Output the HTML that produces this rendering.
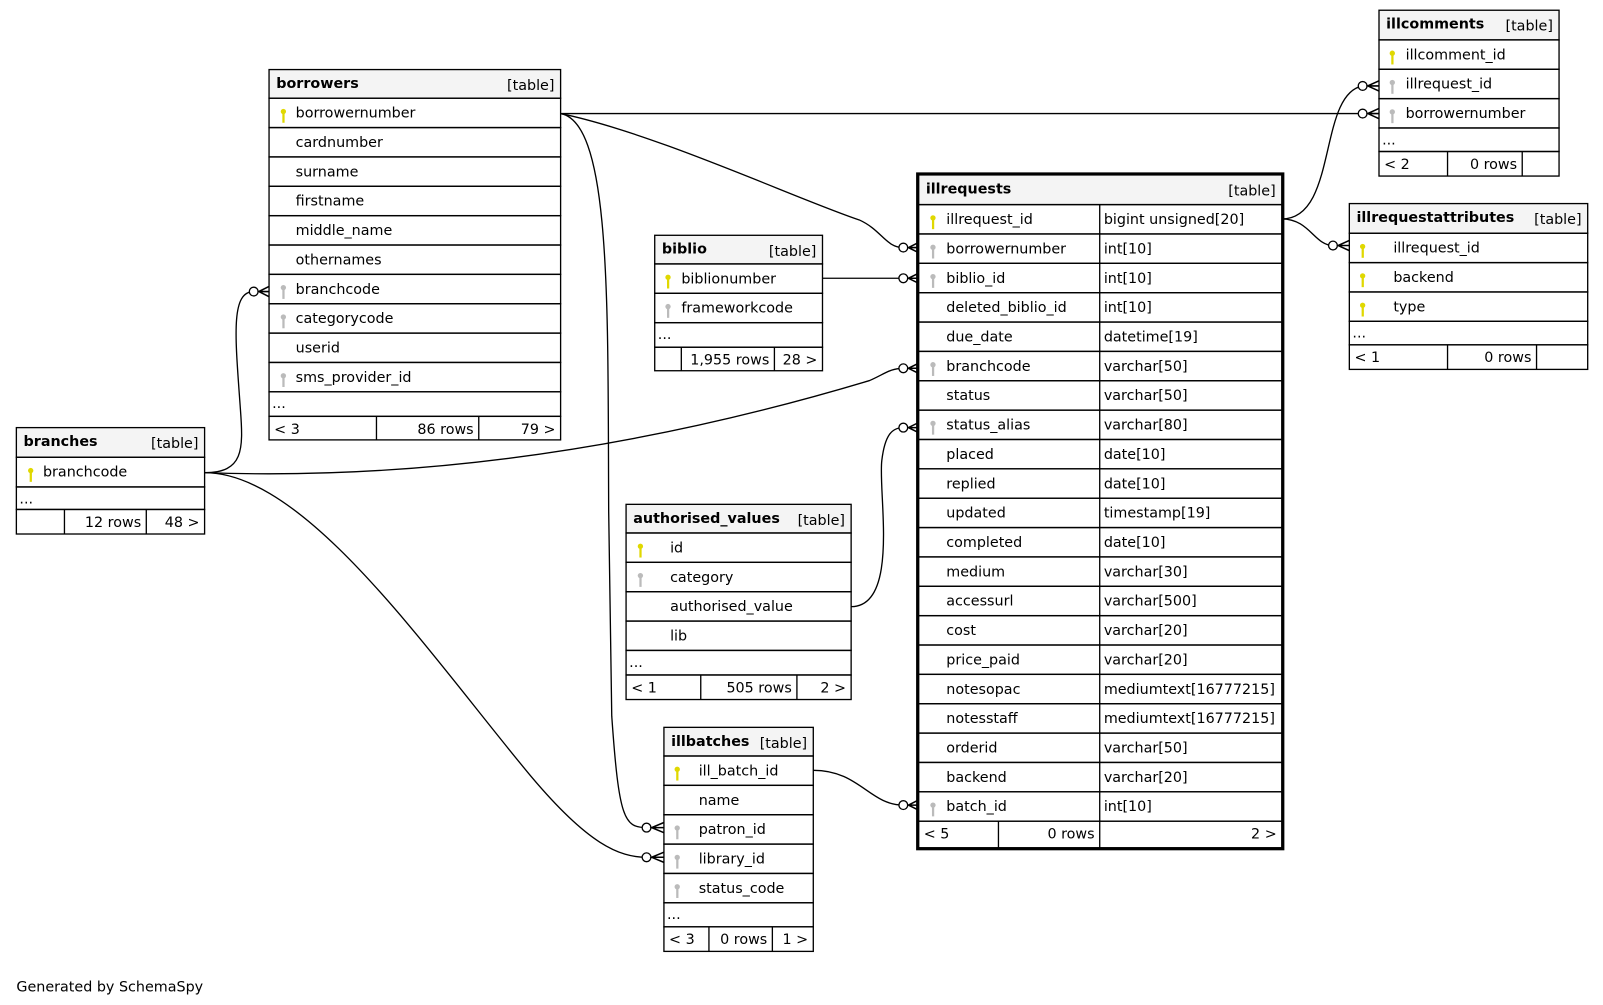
<!DOCTYPE html>
<html><head><meta charset="utf-8"><style>
html,body{margin:0;padding:0;background:#fff;width:1603px;height:1005px;overflow:hidden}
svg{display:block;position:absolute;left:0;top:0}
svg text{font-family:"DejaVu Sans","Liberation Sans",sans-serif;font-size:14px;fill:#000}
</style></head><body>
<svg width="1603" height="1005" viewBox="0 0 1603 1005" xmlns="http://www.w3.org/2000/svg"><g id="s" transform="scale(1.023)"></g></svg>
<script>
const S=document.getElementById('s');let out='';
function t(x,y,s,o){o=o||{};out+=`<text x="${x}" y="${y}"${o.b?' font-weight="bold"':''}${o.a?' text-anchor="'+o.a+'"':''}>${s}</text>`;}
function r(x,y,w,h,f,sw){out+=`<rect x="${x}" y="${y}" width="${w}" height="${h}" fill="${f||'none'}" stroke="#000" stroke-width="${sw||1.3}"/>`;}
function key(x,y,c){out+=`<circle cx="${x}" cy="${y+8}" r="2.6" fill="${c}"/><rect x="${x-1}" y="${y+8}" width="2.2" height="11" fill="${c}"/>`;}
function tbl(o){
 const {x,y,w,hh,rows,rh,split,foot,splits,nx,kx,thick}=o;
 r(x,y,w,hh,'#f4f4f4');
 t(x+7,y+18,o.name,{b:1});t(x+w-6,y+20,'[table]',{a:'end'});
 let yy=y+hh;
 rows.forEach(rw=>{r(x,yy,w,rh);if(split){out+=`<line x1="${split}" y1="${yy}" x2="${split}" y2="${yy+rh}" stroke="#000" stroke-width="1.3"/>`;}
  if(rw[0])key(kx,yy+5,rw[0]=='p'?'#e0d800':'#bbb');
  t(nx,yy+19,rw[1]);if(rw[2])t(split+4,yy+19,rw[2]);yy+=rh;});
 if(o.dh>1){r(x,yy,w,o.dh);t(x+3,yy+16,'...');yy+=o.dh;}
 r(x,yy,w,o.fh);splits.forEach(sx=>out+=`<line x1="${sx}" y1="${yy}" x2="${sx}" y2="${yy+o.fh}" stroke="#000" stroke-width="1.3"/>`);
 const b=[x].concat(splits,[x+w]);
 foot.forEach((f,i)=>{if(f){if(i==0)t(b[0]+5,yy+17,f);else t(b[i+1]-5,yy+17,f,{a:'end'});}});
 if(thick)out+=`<rect x="${x-1}" y="${y-1}" width="${w+2}" height="${yy+o.fh-y+2}" fill="none" stroke="#000" stroke-width="3"/>`;
}
const P=[
"M200,462 C238,462 238,440 235,400 C230,330 225,285 248,285",
"M200,462 C420,470 640,435 850,372 C864,366 870,360 883,360",
"M200,462 C300,462 420,640 520,760 C575,825 605,838 632,838",
"M548,111 L1332,111",
"M548,111 C640,130 780,195 840,215 C862,225 866,242 883,242",
"M548,111 C598,120 594,300 595,500 L598,700 C605,800 610,809 632,809",
"M804,272 L883,272",
"M832,593 C880,593 858,480 862,450 C865,425 872,418 883,418",
"M795,753 C840,753 850,787 883,787",
"M1253,214 C1308,214 1288,92 1332,84",
"M1253,214 C1280,214 1285,240 1303,240"];
P.forEach(p=>out+=`<path d="${p}" fill="none" stroke="#000" stroke-width="1.3"/>`);
function end(cx,cy,ex){out+=`<circle cx="${cx}" cy="${cy}" r="4.3" fill="#fff" stroke="#000" stroke-width="1.3"/><path d="M${ex},${cy-5} L${cx+5},${cy} L${ex},${cy+5} M${cx+5},${cy} L${ex},${cy}" fill="none" stroke="#000" stroke-width="1.5"/>`;}
end(248,285,263);end(883,360,898);end(632,838,649);end(1332,111,1348);end(883,242,898);end(632,809,649);end(883,272,898);end(883,418,898);end(883,787,898);end(1332,84,1348);end(1303,240,1319);
tbl({x:263,y:68,w:285,hh:28,name:'borrowers',rh:28.7,nx:289,kx:277,rows:[['p','borrowernumber'],['','cardnumber'],['','surname'],['','firstname'],['','middle_name'],['','othernames'],['f','branchcode'],['f','categorycode'],['','userid'],['f','sms_provider_id']],dh:24,fh:23,splits:[368,468],foot:['&lt; 3','86 rows','79 &gt;']});
tbl({x:16,y:418,w:184,hh:29,name:'branches',rh:29,nx:42,kx:30,rows:[['p','branchcode']],dh:22,fh:24,splits:[63,143],foot:['','12 rows','48 &gt;']});
tbl({x:640,y:230,w:164,hh:28,name:'biblio',rh:28.7,nx:666,kx:653,rows:[['p','biblionumber'],['f','frameworkcode']],dh:24,fh:23,splits:[666,757],foot:['','1,955 rows','28 &gt;']});
tbl({x:612,y:493,w:220,hh:28,name:'authorised_values',rh:28.7,nx:655,kx:626,rows:[['p','id'],['f','category'],['','authorised_value'],['','lib']],dh:24,fh:24,splits:[685,779],foot:['&lt; 1','505 rows','2 &gt;']});
tbl({x:649,y:711,w:146,hh:28,name:'illbatches',rh:28.7,nx:683,kx:662,rows:[['p','ill_batch_id'],['','name'],['f','patron_id'],['f','library_id'],['f','status_code']],dh:23.5,fh:24,splits:[693,755],foot:['&lt; 3','0 rows','1 &gt;']});
tbl({x:1348,y:10,w:176,hh:29,name:'illcomments',rh:28.7,nx:1374,kx:1361,rows:[['p','illcomment_id'],['f','illrequest_id'],['f','borrowernumber']],dh:23,fh:24,splits:[1415,1488],foot:['&lt; 2','0 rows','']});
tbl({x:1319,y:199,w:233,hh:29,name:'illrequestattributes',rh:28.7,nx:1362,kx:1332,rows:[['p','illrequest_id'],['p','backend'],['p','type']],dh:23,fh:24,splits:[1415,1502],foot:['&lt; 1','0 rows','']});
tbl({x:898,y:171,w:355,hh:29,name:'illrequests',rh:28.7,nx:925,kx:912,split:1075,thick:1,rows:[['p','illrequest_id','bigint unsigned[20]'],['f','borrowernumber','int[10]'],['f','biblio_id','int[10]'],['','deleted_biblio_id','int[10]'],['','due_date','datetime[19]'],['f','branchcode','varchar[50]'],['','status','varchar[50]'],['f','status_alias','varchar[80]'],['','placed','date[10]'],['','replied','date[10]'],['','updated','timestamp[19]'],['','completed','date[10]'],['','medium','varchar[30]'],['','accessurl','varchar[500]'],['','cost','varchar[20]'],['','price_paid','varchar[20]'],['','notesopac','mediumtext[16777215]'],['','notesstaff','mediumtext[16777215]'],['','orderid','varchar[50]'],['','backend','varchar[20]'],['f','batch_id','int[10]']],dh:0,fh:26,splits:[976,1075],foot:['&lt; 5','0 rows','2 &gt;']});
t(16,969,'Generated by SchemaSpy');
S.innerHTML=out;
</script>
</body></html>
